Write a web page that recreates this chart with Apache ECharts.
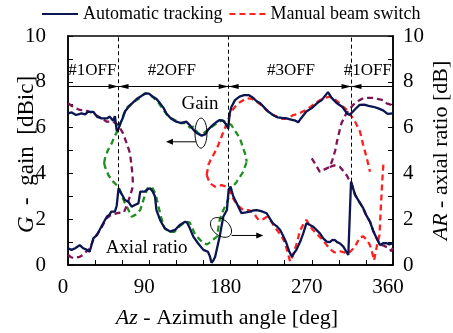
<!DOCTYPE html>
<html><head><meta charset="utf-8">
<script src="https://cdn.jsdelivr.net/npm/echarts@6/dist/echarts.min.js"></script>
<style>html,body{margin:0;padding:0;background:#fff}#c{width:453px;height:333px}</style>
</head><body><div id="c"></div>
<script>
// ---- tick labels / annotations ----
const xTicks = [0, 90, 180, 270, 360];
const yTicks = [0, 2, 4, 6, 8, 10];
const switchAz = [56, 178, 314];
const switchArTop = [3.35, 3.42, 3.64];
const sectorLabels = ['#1OFF', '#2OFF', '#3OFF', '#1OFF'];
const sectorCenters = [27, 115, 247, 332];

// ---- Automatic tracking (navy) ----
const autoGain = [[0,6.62],[4,6.66],[9,6.55],[15,6.62],[19,6.58],[22,6.69],[28,6.69],[32,6.48],[37,6.4],[43,6.4],[46,6.48],[50,6.3],[52,6.5],[54,5.85],[56,5.95],[58,6.2],[60,6.35],[63,6.7],[67,6.9],[71,7.06],[76,7.25],[80,7.35],[84,7.45],[87,7.5],[90,7.47],[94,7.35],[98,7.25],[102,7.06],[106,6.85],[109,6.62],[114,6.4],[120,6.26],[125,6.2],[131,6.26],[135,6.1],[139,5.9],[143,5.75],[148,5.65],[152,5.7],[155,5.9],[160,6.1],[165,6.26],[168,6.33],[172,6.3],[175,6.15],[177.5,5.95],[179,6.6],[181,6.9],[185,7.2],[190,7.35],[195,7.42],[200,7.42],[205,7.3],[209,7.15],[213,7.06],[218,6.85],[222,6.7],[227,6.55],[232,6.45],[237,6.42],[242,6.4],[247,6.35],[252,6.3],[255,6.23],[258,6.4],[264,6.7],[270,6.85],[276,7.07],[281,7.2],[288,7.55],[292,7.3],[298,7.06],[304,6.9],[309,6.62],[312,6.55],[314,6.6],[318,6.8],[323,6.99],[328,7.0],[333,6.95],[338,6.91],[343,6.85],[349,6.75],[354,6.6],[360,6.62]];
const autoAR = [[0,0.73],[4,0.66],[8,0.73],[13,0.87],[17,0.73],[21,0.66],[24,0.58],[28,1.16],[32,1.3],[35,1.53],[39,1.82],[43,2.11],[46,2.2],[48,2.33],[52,2.33],[54,2.6],[56,3.35],[59,3.13],[63,2.84],[67,2.76],[70.5,2.55],[74,2.62],[78,2.69],[80,3.2],[85,3.2],[88,3.3],[91,3.35],[94,3.2],[96.4,2.98],[98,2.4],[102,1.97],[105,1.75],[107.4,1.6],[113,1.46],[118.5,1.53],[124,1.75],[129.6,1.89],[132,1.85],[135,1.6],[138.8,1.24],[144,0.95],[150,0.66],[155,0.58],[157,0.4],[159,0.1],[161,0.2],[163,0.36],[168,1.24],[172,2.11],[176,2.4],[178,3.3],[180,3.42],[183,3.0],[187,2.69],[192,2.27],[197,2.3],[201.6,2.33],[205,2.38],[209,2.4],[214,2.35],[220,2.26],[224,2.0],[227,1.82],[231,1.7],[235,1.53],[238,1.3],[242,0.95],[245,0.6],[248,0.36],[250,0.5],[253,0.66],[257,1.0],[260.6,1.38],[264,1.82],[268,1.75],[271.7,1.67],[276,1.5],[279,1.38],[283,1.15],[286.5,1.02],[290,1.0],[293,1.1],[295.7,1.09],[298,1.0],[301,0.95],[305,0.8],[308,0.6],[310.5,0.44],[312.5,0.4],[313.5,3.64],[315,3.68],[318,3.06],[322,2.8],[327,2.48],[330,2.2],[334.5,1.89],[338,1.5],[342,1.16],[345.6,0.87],[349,0.95],[353,0.95],[356,0.9],[360,0.95]];

// ---- Manual beam switch (red) ----
const manualGain = [[153.6,3.93],[155.5,4.37],[158,4.6],[161,4.8],[165,5.1],[168,5.38],[171,5.7],[174,6.0],[177,6.3],[180,6.65],[185,6.91],[190,7.1],[198,7.28],[204,7.25],[209,7.13],[215,6.95],[220,6.75],[224,6.62],[230,6.5],[235,6.4],[240,6.38],[245,6.45],[249.5,6.55],[255,6.6],[260,6.7],[264,6.77],[270,6.95],[275,7.1],[279,7.2],[285,7.3],[290,7.35],[295,7.25],[301,7.06],[305,6.9],[309,6.77],[312,6.62],[314,6.55],[318,6.26],[323.5,5.82],[327,5.24],[331,4.66],[334.5,4.07]];
const manualAR = [[153.6,3.93],[157,3.57],[163,3.42],[170,3.49],[176,3.42],[180,3.2],[183,2.9],[188,2.6],[194,2.4],[200,2.4],[205,2.3],[211,1.97],[216,2.0],[220,2.1],[225,1.9],[230,1.6],[236,1.3],[240,1.0],[243,0.6],[246,0.15],[249,0.4],[253,0.9],[257,1.5],[261,1.8],[264,1.97],[268,1.7],[272,1.5],[277,1.3],[282,1.1],[286,0.9],[290,0.7],[295,0.55],[301,0.6],[306,0.55],[310,0.5],[313,0.6],[318,0.8],[323,1.2],[327,1.25],[331,1.1],[334,0.9],[336,0.7],[339,0.2],[342,0.8],[345,1.3],[346.5,2.5],[348,3.6],[349.5,4.5]];

// ---- beam #1 off (green dashed) ----
const greenGain = [[40,4.45],[41,4.66],[44,5.0],[48.4,5.31],[52,5.65],[55.7,5.9],[58,6.15],[62,6.6],[66,6.9],[71,7.06],[76,7.2],[80,7.3],[85,7.5],[90,7.45],[95,7.3],[100,7.1],[105,6.8],[110,6.55],[115,6.4],[120,6.3],[125,6.2],[130,6.2],[135,6.0],[139,6.04],[143,5.8],[146,5.7],[150,5.75],[155,5.9],[160,6.05],[165,6.2],[170,6.3],[175,6.25],[181,6.11],[186,5.8],[190.5,5.53],[194,5.1],[196,4.88],[198,4.51]];
const greenAR = [[40,4.45],[41,4.29],[44.7,3.93],[50,3.64],[55.7,3.42],[59,3.1],[63,2.7],[67,2.4],[70.5,2.11],[75,2.2],[80,2.4],[84,2.9],[88,3.35],[93,3.4],[97,3.1],[100,2.6],[103,2.1],[107,1.6],[112,1.45],[118,1.45],[124,1.7],[130,1.9],[135,1.85],[140,1.4],[145,1.15],[150,0.95],[154,0.9],[158,1.0],[162,1.15],[165,1.24],[168,1.97],[172,2.4],[176,2.7],[181,3.35],[187,3.64],[194,4.07],[198,4.51]];

// ---- other fixed beam (maroon dashed) ----
const maroonGainL = [[0,7.06],[2,6.99],[6,6.9],[13,6.77],[20,6.75],[28,6.62],[37,6.4],[43,6.26],[50,6.26],[55.7,6.11],[61,5.75],[65,5.31],[68.7,4.88],[70.5,4.29],[71.5,3.9],[72,3.45]];
const maroonARL = [[0,0.44],[3,0.35],[6,0.3],[13,0.36],[17,0.45],[20,0.58],[24,0.7],[28,1.1],[35,1.5],[43,2.05],[48,2.2],[55,2.27],[62,2.3],[65,2.6],[68.7,3.0],[72,3.45]];
const maroonGainR = [[270,4.66],[274,4.4],[279,4.07],[283,4.15],[286.5,4.22],[290,4.28],[293,4.6],[296,5.0],[298,5.4],[301,5.9],[303,6.2],[308,6.6],[316,7.0],[323,7.2],[327,7.28],[333,7.3],[338,7.3],[343,7.25],[349,7.2],[353,7.06],[358.5,6.99],[360,6.95]];
const maroonARR = [[290,4.28],[295,4.35],[301,4.29],[305,4.1],[309,3.9],[311,3.75],[313.5,3.64],[318,3.06],[322,2.8],[327,2.48],[330,2.2],[334.5,1.89],[338,1.5],[342,1.16],[345.6,0.9],[349,0.85],[352,0.8],[356,0.74],[358,0.6],[360,0.75]];

const FONT = 'Liberation Serif';
const NAVY = '#0b1552', RED = '#ff1f1f', GREEN = '#1f8f1f', MAROON = '#7d1352';

function lineSeries(name, data, color, yIdx, dashed, extra) {
  return Object.assign({
    name, type: 'line', data, yAxisIndex: yIdx, symbol: 'none', showSymbol: false,
    lineStyle: { color, width: 2.3, type: dashed ? [6, 4] : 'solid' },
    itemStyle: { color }, silent: true
  }, extra || {});
}

const vLines = switchAz.map((a, i) => [{ coord: [a, switchArTop[i]], symbol: 'none' }, { coord: [a, 10], symbol: 'none' }]);
const bounds = [0].concat(switchAz, [360]);
const ARROW_Y = 7.8;
const hLines = [];
for (let i = 0; i < bounds.length - 1; i++) {
  hLines.push([
    { coord: [bounds[i], ARROW_Y], symbol: i === 0 ? 'none' : 'triangle', symbolSize: [5, 10], symbolOffset: [0, 5] },
    { coord: [bounds[i + 1], ARROW_Y], symbol: i === bounds.length - 2 ? 'none' : 'triangle', symbolSize: [5, 10], symbolOffset: [0, 5] }
  ]);
}

const axisCommon = {
  axisLine: { show: true, lineStyle: { color: '#000', width: 1.5 } },
  axisTick: { show: true, inside: true, length: 5, lineStyle: { color: '#000', width: 1 } },
  splitLine: { show: false },
  nameMoveOverlap: false
};

const option = {
  animation: false,
  backgroundColor: '#fff',
  textStyle: { fontFamily: FONT },
  legend: {
    data: ['Automatic tracking', 'Manual beam switch'],
    left: 41, top: 5, padding: 0, itemWidth: 36, itemHeight: 16, itemGap: 6,
    itemStyle: { opacity: 0 },
    textStyle: { fontSize: 18, color: '#000', fontFamily: FONT }
  },
  grid: { left: 68, right: 60, top: 36, bottom: 68, show: true, borderColor: '#000', borderWidth: 1.5, containLabel: false, outerBoundsMode: 'none' },
  xAxis: Object.assign({
    type: 'value', min: 0, max: 360, interval: 30,
    axisLabel: { formatter: v => xTicks.includes(v) ? String(v) : '', fontSize: 21, color: '#000', fontFamily: FONT, margin: 12, padding: [0, 10, 0, 0] },
    name: '{i|Az} - Azimuth angle [deg]', nameLocation: 'middle', nameGap: 42,
    nameTextStyle: { fontSize: 22, color: '#000', fontFamily: FONT, padding: [0, 7, 0, 0], rich: { i: { fontStyle: 'italic', fontSize: 22, fontFamily: FONT } } }
  }, axisCommon),
  yAxis: [
    Object.assign({
      type: 'value', min: 0, max: 10, interval: 1, position: 'left',
      axisLabel: { formatter: v => yTicks.includes(v) ? String(v) : '', fontSize: 21, color: '#000', fontFamily: FONT, margin: 22 },
      name: '{i|G}  -  gain  [dBic]', nameLocation: 'middle', nameRotate: 90, nameGap: 30,
      nameTextStyle: { fontSize: 23, color: '#000', fontFamily: FONT, padding: [0, 8, 0, 0], rich: { i: { fontStyle: 'italic', fontSize: 23, fontFamily: FONT } } }
    }, axisCommon),
    Object.assign({
      type: 'value', min: 0, max: 10, interval: 1, position: 'right',
      axisLabel: { formatter: v => yTicks.includes(v) ? String(v) : '', fontSize: 21, color: '#000', fontFamily: FONT, margin: 10 },
      name: '{i|AR} - axial ratio [dB]', nameLocation: 'middle', nameRotate: 90, nameGap: 37,
      nameTextStyle: { fontSize: 22, color: '#000', fontFamily: FONT, rich: { i: { fontStyle: 'italic', fontSize: 22, fontFamily: FONT } } }
    }, axisCommon)
  ],
  series: [
    lineSeries('beamA', greenGain, GREEN, 0, true),
    lineSeries('beamA', greenAR, GREEN, 1, true),
    lineSeries('beamB', maroonGainL, MAROON, 0, true),
    lineSeries('beamB', maroonARL, MAROON, 1, true),
    lineSeries('beamB', maroonGainR, MAROON, 0, true),
    lineSeries('beamB', maroonARR, MAROON, 1, true),
    lineSeries('Manual beam switch', manualGain, RED, 0, true),
    lineSeries('Manual beam switch', manualAR, RED, 1, true),
    lineSeries('Automatic tracking', autoAR, NAVY, 1, false),
    lineSeries('Automatic tracking', autoGain, NAVY, 0, false, {
      markLine: {
        silent: true, animation: false, label: { show: false },
        lineStyle: { color: '#000', width: 1, type: [4, 3] },
        itemStyle: { color: '#000' },
        data: vLines
      }
    }),
    {
      name: 'arrows', type: 'line', data: [[0, ARROW_Y]], symbol: 'none', lineStyle: { width: 0 }, silent: true,
      markLine: {
        silent: true, animation: false, label: { show: false },
        lineStyle: { color: '#000', width: 1, type: 'solid' },
        itemStyle: { color: '#000' },
        data: hLines
      }
    }
  ]
};

const chart = echarts.init(document.getElementById('c'), null, { renderer: 'canvas' });
chart.setOption(option);

const P = (a, v) => chart.convertToPixel({ gridIndex: 0 }, [a, v]);
function ellipse(c, rx, ry, rotDeg) {
  const pts = [], r = rotDeg * Math.PI / 180;
  for (let i = 0; i <= 48; i++) {
    const t = i / 48 * Math.PI * 2;
    const x = rx * Math.cos(t), y = ry * Math.sin(t);
    pts.push([c[0] + x * Math.cos(r) - y * Math.sin(r), c[1] + x * Math.sin(r) + y * Math.cos(r)]);
  }
  return pts;
}
const g = [];
sectorLabels.forEach((t, i) => {
  const p = P(sectorCenters[i], 8.48);
  g.push({ type: 'text', x: p[0], y: p[1], style: { text: t, fontSize: 17, fontFamily: FONT, fill: '#000', align: 'center', verticalAlign: 'middle' }, z: 100 });
});
const gainTxt = P(146.2, 7.03);
g.push({ type: 'text', x: gainTxt[0], y: gainTxt[1], style: { text: 'Gain', fontSize: 19, fontFamily: FONT, fill: '#000', align: 'center', verticalAlign: 'middle' }, z: 100 });
const arTxt = P(87, 0.76);
g.push({ type: 'text', x: arTxt[0], y: arTxt[1], style: { text: 'Axial ratio', fontSize: 19, fontFamily: FONT, fill: '#000', align: 'center', verticalAlign: 'middle' }, z: 100 });
// gain ellipse + left arrow
g.push({ type: 'polyline', shape: { points: ellipse(P(147.3, 5.76), 6, 15, 0) }, style: { stroke: '#000', lineWidth: 1, fill: null }, z: 100 });
const ga = P(141.8, 5.38), gb = P(108.5, 5.38);
g.push({ type: 'line', shape: { x1: ga[0], y1: ga[1], x2: gb[0] + 5, y2: gb[1] }, style: { stroke: '#000', lineWidth: 1 }, z: 100 });
g.push({ type: 'polygon', shape: { points: [[gb[0], gb[1]], [gb[0] + 7, gb[1] - 3], [gb[0] + 7, gb[1] + 3]] }, style: { fill: '#000' }, z: 100 });
// AR ellipse + right arrow
g.push({ type: 'polyline', shape: { points: ellipse(P(169.5, 1.64), 12, 8, 40) }, style: { stroke: '#000', lineWidth: 1, fill: null }, z: 100 });
const aa = P(181.3, 1.29), ab = P(216.3, 1.29);
g.push({ type: 'line', shape: { x1: aa[0], y1: aa[1], x2: ab[0] - 5, y2: ab[1] }, style: { stroke: '#000', lineWidth: 1 }, z: 100 });
g.push({ type: 'polygon', shape: { points: [[ab[0], ab[1]], [ab[0] - 7, ab[1] - 3], [ab[0] - 7, ab[1] + 3]] }, style: { fill: '#000' }, z: 100 });
chart.setOption({ graphic: g });
</script></body></html>
